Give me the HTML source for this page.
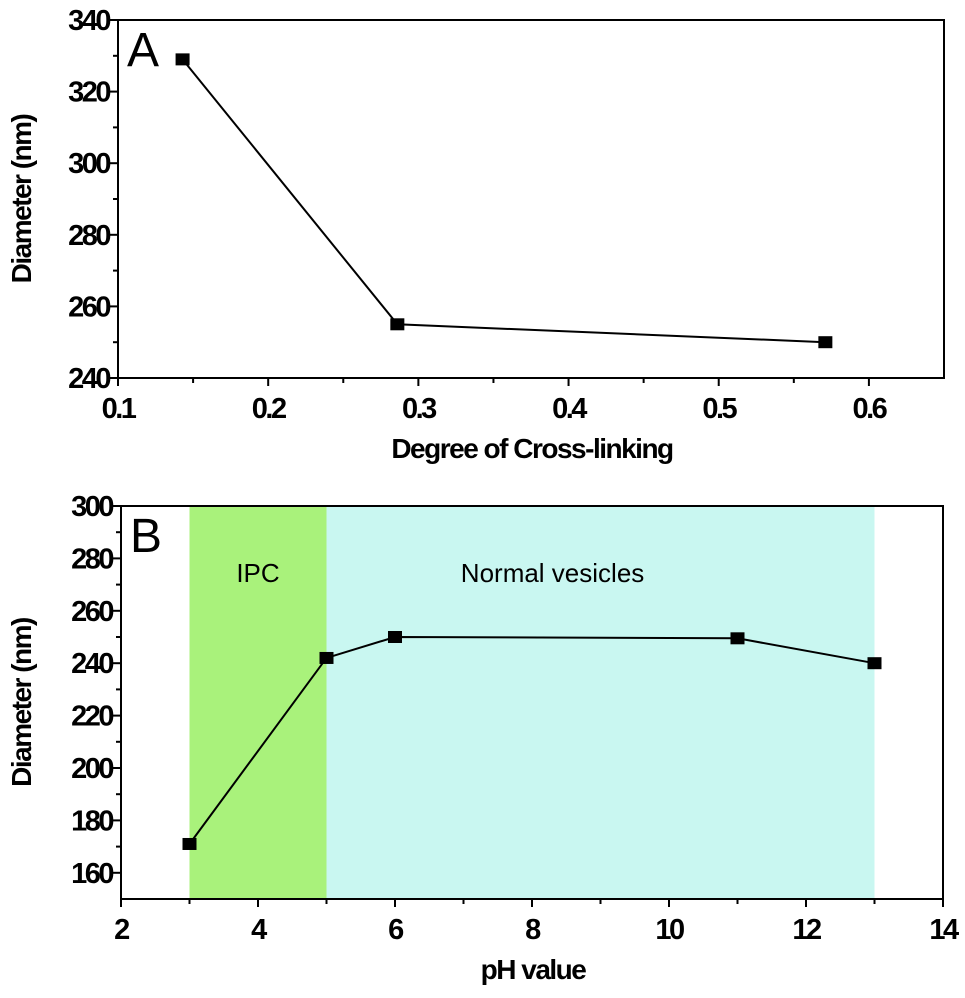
<!DOCTYPE html>
<html><head><meta charset="utf-8"><style>
html,body{margin:0;padding:0;background:#fff;}
svg{display:block;font-family:"Liberation Sans",Arial,sans-serif;}
.tick{font-size:29px;font-weight:bold;letter-spacing:-2.5px;}
.title{font-size:28px;font-weight:bold;letter-spacing:-1.5px;}
</style></head><body>
<svg id="chart" width="965" height="998" viewBox="0 0 965 998"></svg>
<script>
// Panel A data
const aX = [0.143, 0.286, 0.571];
const aY = [329, 255, 250];
const aXTicks = [0.1, 0.2, 0.3, 0.4, 0.5, 0.6];
const aYTicks = [240, 260, 280, 300, 320, 340];
// Panel B data
const bX = [3, 5, 6, 11, 13];
const bY = [171, 242, 250, 249.5, 240];
const bXTicks = [2, 4, 6, 8, 10, 12, 14];
const bYTicks = [160, 180, 200, 220, 240, 260, 280, 300];
const bRegions = [{from:3, to:5, label:'IPC', color:'#a9f27b', lx:4}, {from:5, to:13, label:'Normal vesicles', color:'#c9f7f1', lx:8.3}];

const NS = 'http://www.w3.org/2000/svg';
const svg = document.getElementById('chart');
function el(tag, attrs, parent){const e=document.createElementNS(NS,tag);for(const k in attrs)e.setAttribute(k,attrs[k]);(parent||svg).appendChild(e);return e;}

function panel(cfg){
  const g = el('g',{});
  
  
  const sx = v => cfg.x0 + (v - cfg.xmin) / (cfg.xmax - cfg.xmin) * (cfg.x1 - cfg.x0);
  const sy = v => cfg.y1 - (v - cfg.ymin) / (cfg.ymax - cfg.ymin) * (cfg.y1 - cfg.y0);
  (cfg.regions||[]).forEach(r => {
    const rc = el('rect',{x:sx(r.from),y:cfg.y0,width:sx(r.to)-sx(r.from),height:cfg.y1-cfg.y0,fill:r.color},g);
    
    
    const t = el('text',{x:sx(r.lx),y:cfg.y0+76,'text-anchor':'middle','font-size':'26'},g);
    t.textContent = r.label;
    
    
  });
  const frame = el('rect',{x:cfg.x0,y:cfg.y0,width:cfg.x1-cfg.x0,height:cfg.y1-cfg.y0,fill:'none',stroke:'#000','stroke-width':2},g);
  
  
  cfg.xTicks.forEach((v,i) => {
    const x = sx(v);
    el('line',{x1:x,y1:cfg.y1,x2:x,y2:cfg.y1+8,stroke:'#000','stroke-width':2},g);
    if(i < cfg.xTicks.length-1){const xm = sx(v + (cfg.xTicks[1]-cfg.xTicks[0])/2); if(xm<=cfg.x1) el('line',{x1:xm,y1:cfg.y1,x2:xm,y2:cfg.y1+5,stroke:'#000','stroke-width':2},g);}
    const t = el('text',{x:x,y:cfg.y1+40,'text-anchor':'middle',class:'tick'},g);
    t.textContent = v;
    
    
  });
  cfg.yTicks.forEach((v,i) => {
    const y = sy(v);
    el('line',{x1:cfg.x0-8,y1:y,x2:cfg.x0,y2:y,stroke:'#000','stroke-width':2},g);
    const ym = sy(v + (cfg.yTicks[1]-cfg.yTicks[0])/2);
    if(ym>=cfg.y0-1 && ym<=cfg.y1) el('line',{x1:cfg.x0-5,y1:ym,x2:cfg.x0,y2:ym,stroke:'#000','stroke-width':2},g);
    const t = el('text',{x:cfg.x0-9,y:y+10,'text-anchor':'end',class:'tick'},g);
    t.textContent = v;
    
    
  });
  const pts = cfg.xs.map((v,i)=>sx(v)+','+sy(cfg.ys[i])).join(' ');
  const pl = el('polyline',{points:pts,fill:'none',stroke:'#000','stroke-width':2},g);
  
  
  cfg.xs.forEach((v,i)=>{
    const m = el('rect',{x:sx(v)-7,y:sy(cfg.ys[i])-6,width:14,height:12,fill:'#000'},g);
    
    
  });
  const lab = el('text',{x:cfg.x0+9,y:cfg.y0+46,'font-size':'48'},g);
  lab.textContent = cfg.letter;
  
  
  const xt = el('text',{x:(cfg.x0+cfg.x1)/2 - cfg.xtShift,y:cfg.y1+80,'text-anchor':'middle',class:'title'},g);
  xt.textContent = cfg.xTitle;
  
  
  const yt = el('text',{x:0,y:0,'text-anchor':'middle',class:'title',transform:'translate(31,'+((cfg.y0+cfg.y1)/2)+') rotate(-90)'},g);
  yt.textContent = 'Diameter (nm)';
  
  
}

panel({name:'panel-a',letter:'A',x0:118,x1:944,y0:20,y1:378,xmin:0.1,xmax:0.65,ymin:240,ymax:340,
  xs:aX,ys:aY,xTicks:aXTicks,yTicks:aYTicks,xTitle:'Degree of Cross-linking',xtShift:-1});
panel({name:'panel-b',letter:'B',x0:121,x1:943,y0:506,y1:899,xmin:2,xmax:14,ymin:150,ymax:300,
  xs:bX,ys:bY,xTicks:bXTicks,yTicks:bYTicks,regions:bRegions,xTitle:'pH value',xtShift:-1});
</script>
</body></html>
